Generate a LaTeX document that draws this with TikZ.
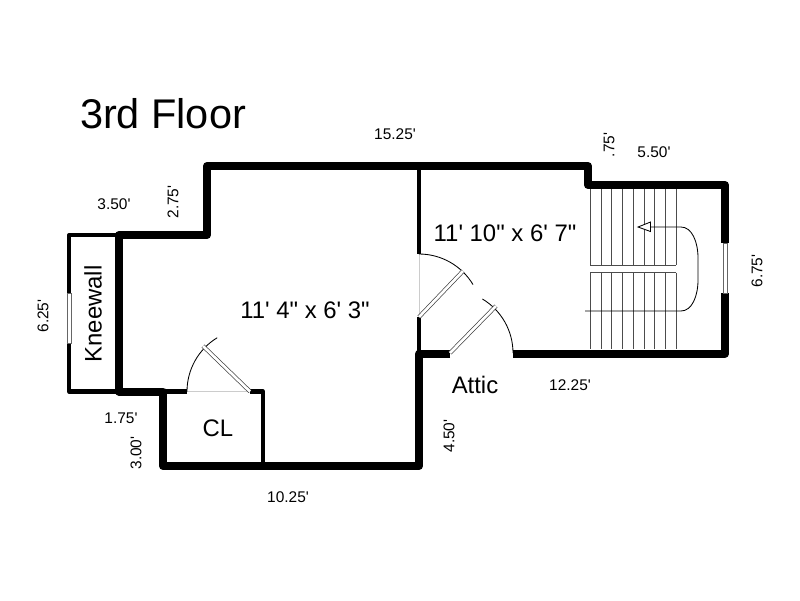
\documentclass[tikz,border=0pt]{standalone}
\usepackage{fontspec}
\setmainfont{Liberation Sans}[Ligatures=TeXOff]
\tikzset{
    WA1/.style ={line width=5.7pt, line join=round},
    WA2/.style ={line width=2.9pt, line join=round},
    WA3/.style ={line width=2.9pt},
    DR/.style ={draw=black!75, double=white, line width=.5pt, double distance=1.9pt},
    SW/.style ={line width=.6pt},
    ST/.style ={line width=.7pt, draw=black!70},
    OP/.style ={line width=.4pt, draw=black!20},
    WI/.style ={rectangle, draw=black!60, fill=white, line width=.5pt},
    DI/.style ={font=\fontsize{11pt}{13pt}\selectfont, inner sep=0pt},
    RO/.style ={font=\fontsize{17pt}{20pt}\selectfont, inner sep=0pt}
}
\begin{document}
\begin{tikzpicture}[x=.025cm,y=-.025cm]
        \useasboundingbox (0,0) rectangle (800,600);
        % door openings
        \draw[OP] (419,254)--(419,317);
        \draw[OP] (187,391.5)--(250,391.5);
        % stairs
        \foreach \sx in {590,601,611.7,622.3,633.3,644,654.7,665.3,676}{
            \draw[ST] (\sx,189)--(\sx,265);
            \draw[ST] (\sx,272.7)--(\sx,349);
        }
        \draw[ST] (590,265)--(676,265);
        \draw[ST] (590,272.7)--(676,272.7);
        \draw[SW] (585,311)--(681,311) .. controls (692,311) and (698,296) .. (698,280)
            -- (698,258) .. controls (698,242) and (692,227) .. (681,227) -- (650.5,227);
        \draw[SW,fill=white] (638,227)--(650.5,222)--(650.5,231.5)--cycle;
        % thin walls
        \draw[WA2] (119,235)--(69,235)--(69,391.5)--(119,391.5);
        \draw[WA3] (419,166)--(419,254);
        \draw[WA3] (419,317)--(419,353);
        \draw[WA2] (163,391.5)--(187,391.5);
        \draw[WA2] (250,391.5)--(263,391.5)--(263,466);
        % outer walls
        \draw[WA1] (450,353.5)--(419,353.5)--(419,466)--(163,466)--(163,391.5)--(119,391.5)
            --(119,235)--(207,235)--(207,166)--(588,166)--(588,185)--(725,185)--(725,243);
        \draw[WA1] (725,293)--(725,353.5)--(513,353.5);
        % windows
        \node[WI,minimum width=2.8pt,minimum height=35.5pt,inner sep=0pt] (winE) at (725,268){};
        \node[WI,minimum width=2.8pt,minimum height=35.5pt,inner sep=0pt] (winW) at (69,318){};
        % doors
        \draw[SW] (419,254) arc (-90:-31:63);
        \draw[DR] (419,317)--(463,271);
        \draw[SW] (513,353) arc (0:-59:63);
        \draw[DR] (450,353)--(496,306);
        \draw[SW] (187,391.5) arc (180:238.6:63);
        \draw[DR] (250,391.5)--(203,346);
        % labels
        \node[font=\fontsize{29.5pt}{34pt}\selectfont,inner sep=0pt] (title) at (163,114){3rd Floor};
        \node[RO] (roomA) at (305,310){11' 4" x 6' 3"};
        \node[RO] (roomB) at (505,233){11' 10" x 6' 7"};
        \node[RO] (attic) at (475,385){Attic};
        \node[RO] (closet) at (218,428){CL};
        \node[RO,rotate=90] (knee) at (93,314){Kneewall};
        \node[DI] (dimA) at (395,134){15.25'};
        \node[DI] (dimB) at (114,204){3.50'};
        \node[DI,rotate=90] (dimC) at (173,202){2.75'};
        \node[DI,rotate=90] (dimD) at (609,145){.75'};
        \node[DI] (dimE) at (654,152){5.50'};
        \node[DI,rotate=90] (dimF) at (757,271){6.75'};
        \node[DI] (dimG) at (570,385){12.25'};
        \node[DI,rotate=90] (dimH) at (449,436){4.50'};
        \node[DI] (dimI) at (121,418){1.75'};
        \node[DI,rotate=90] (dimJ) at (136,453){3.00'};
        \node[DI] (dimK) at (288,497){10.25'};
        \node[DI,rotate=90] (dimL) at (43,316){6.25'};
    \end{tikzpicture}
\end{document}
